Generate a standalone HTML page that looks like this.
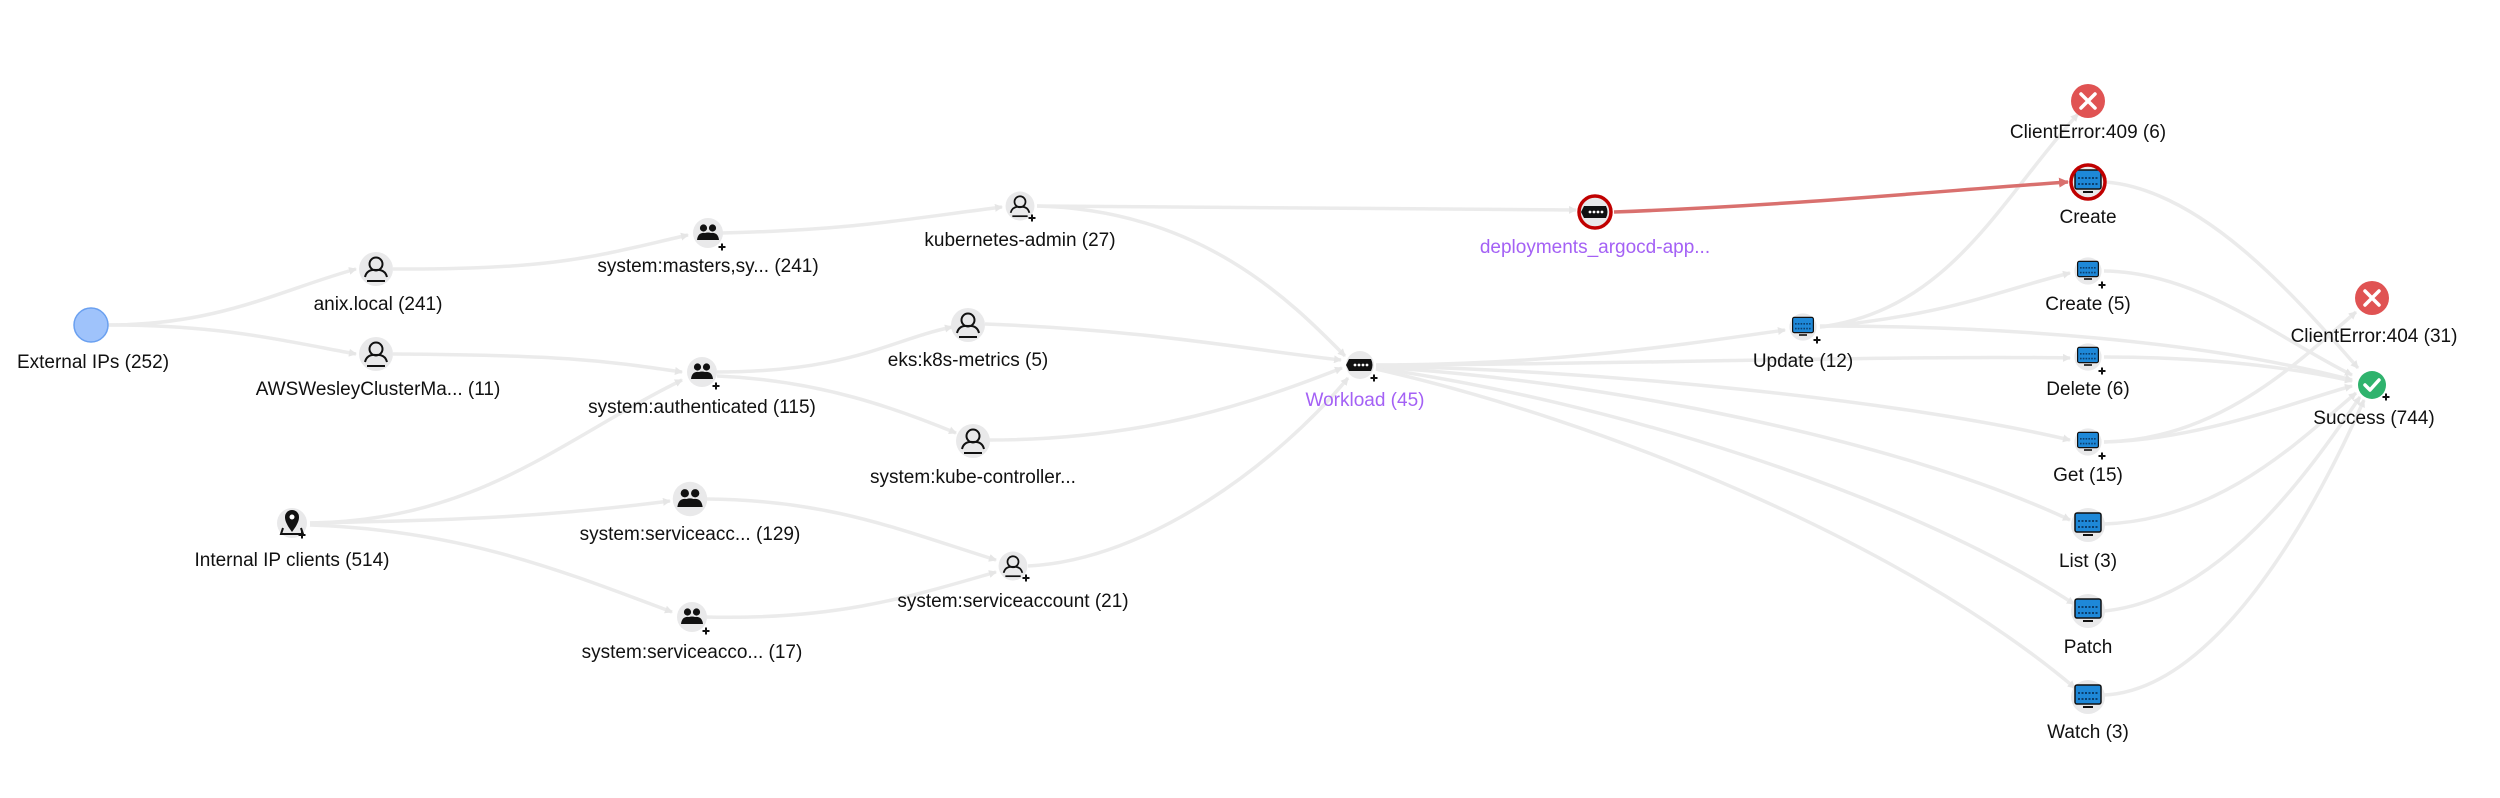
<!DOCTYPE html>
<html><head><meta charset="utf-8"><style>
html,body{margin:0;padding:0;background:#fff;}
svg{display:block;}
text{font-family:"Liberation Sans",Arial,sans-serif;font-size:19px;fill:#111;text-anchor:middle;}
.p{fill:#a461f5;}
.e{fill:none;stroke:#ebebeb;stroke-width:3.5;}
</style></head><body>
<svg width="2500" height="798" viewBox="0 0 2500 798" xmlns="http://www.w3.org/2000/svg">
<defs>
<marker id="a" markerWidth="8" markerHeight="8" refX="7" refY="4" orient="auto" markerUnits="userSpaceOnUse"><path d="M0,0L8,4L0,8z" fill="#e6e6e6"/></marker>
<marker id="ar" markerWidth="10" markerHeight="10" refX="9" refY="5" orient="auto" markerUnits="userSpaceOnUse"><path d="M0,0L10,5L0,10z" fill="#d9706e"/></marker>
<g id="user"><circle r="17" fill="#e9e9ea"/><circle cy="-5" r="6.5" fill="none" stroke="#111" stroke-width="2"/><path d="M-11,8 Q-9,0 0,1 Q9,0 11,8" fill="none" stroke="#111" stroke-width="2"/><path d="M-9,12H9" stroke="#111" stroke-width="2"/></g>
<g id="grp"><circle r="15" fill="#e9e9ea"/><circle cx="-4.5" cy="-5" r="3.6" fill="#111"/><circle cx="4.5" cy="-5" r="3.6" fill="#111"/><path d="M-11,7Q-10,-1 -3,0Q0,-1 3,0Q10,-1 11,7z" fill="#111"/></g>
<g id="plus"><path d="M-3.5,0H3.5M0,-3.5V3.5" stroke="#111" stroke-width="2"/></g>
<g id="mon"><circle r="17" fill="#e9e9ea"/><rect x="-13" y="-12" width="26" height="19" rx="2" fill="#1e88d8" stroke="#111" stroke-width="1.5"/><path d="M-10,-4H10M-10,2H10" stroke="#0b3f6e" stroke-width="2" stroke-dasharray="2 1.5"/><path d="M-5,10H5" stroke="#111" stroke-width="2"/></g>
<g id="wl"><path d="M-12,-6H10Q13,0 10,6H-12L-15,0z" fill="#111"/><circle cx="-6" r="1.4" fill="#fff"/><circle cx="-2" r="1.4" fill="#fff"/><circle cx="2" r="1.4" fill="#fff"/><circle cx="6" r="1.4" fill="#fff"/></g>
</defs>

<g class="edges">
<path class="e" marker-end="url(#a)" d="M108,325 C220,325 280,290 356,269"/>
<path class="e" marker-end="url(#a)" d="M108,325 C220,325 280,340 356,354"/>
<path class="e" marker-end="url(#a)" d="M393,269 C560,270 600,255 688,235"/>
<path class="e" marker-end="url(#a)" d="M393,354 C560,355 600,360 682,372"/>
<path class="e" marker-end="url(#a)" d="M722,233 C850,230 900,220 1002,207"/>
<path class="e" marker-end="url(#a)" d="M717,372 C850,372 890,340 952,327"/>
<path class="e" marker-end="url(#a)" d="M717,376 C820,380 900,410 956,433"/>
<path class="e" marker-end="url(#a)" d="M310,523 C480,520 560,440 682,380"/>
<path class="e" marker-end="url(#a)" d="M310,523 C480,520 560,515 670,501"/>
<path class="e" marker-end="url(#a)" d="M310,525 C460,530 560,570 672,612"/>
<path class="e" marker-end="url(#a)" d="M706,499 C830,500 900,530 996,560"/>
<path class="e" marker-end="url(#a)" d="M706,617 C830,620 900,600 996,572"/>
<path class="e" marker-end="url(#a)" d="M1037,206 C1200,210 1290,300 1345,356"/>
<path class="e" marker-end="url(#a)" d="M985,324 C1150,330 1250,350 1341,360"/>
<path class="e" marker-end="url(#a)" d="M989,440 C1150,440 1260,400 1342,368"/>
<path class="e" marker-end="url(#a)" d="M1028,566 C1150,560 1280,460 1348,378"/>
<path class="e" marker-end="url(#a)" d="M1037,206 C1300,208 1450,208 1576,210"/>
<path class="e" marker-end="url(#a)" d="M1376,365 C1550,365 1680,345 1785,330"/>
<path class="e" marker-end="url(#a)" d="M1376,365 C1600,365 1900,355 2070,358"/>
<path class="e" marker-end="url(#a)" d="M1376,366 C1600,370 1900,400 2070,440"/>
<path class="e" marker-end="url(#a)" d="M1376,367 C1600,380 1900,440 2070,520"/>
<path class="e" marker-end="url(#a)" d="M1376,368 C1600,400 1900,490 2074,604"/>
<path class="e" marker-end="url(#a)" d="M1376,369 C1600,420 1900,540 2075,688"/>
<path class="e" marker-end="url(#a)" d="M1820,327 C1950,310 2000,200 2078,114"/>
<path class="e" marker-end="url(#a)" d="M1820,327 C1950,315 2000,290 2070,273"/>
<path class="e" marker-end="url(#a)" d="M1820,326 C2000,326 2200,340 2352,380"/>
<path class="e" marker-end="url(#a)" d="M2106,182 C2200,190 2290,290 2358,368"/>
<path class="e" marker-end="url(#a)" d="M2104,271 C2200,272 2280,340 2352,375"/>
<path class="e" marker-end="url(#a)" d="M2104,357 C2200,357 2280,365 2352,381"/>
<path class="e" marker-end="url(#a)" d="M2104,442 C2200,440 2300,400 2352,386"/>
<path class="e" marker-end="url(#a)" d="M2104,442 C2220,440 2300,360 2356,312"/>
<path class="e" marker-end="url(#a)" d="M2104,524 C2220,520 2300,440 2356,393"/>
<path class="e" marker-end="url(#a)" d="M2104,611 C2220,600 2310,470 2360,397"/>
<path class="e" marker-end="url(#a)" d="M2104,695 C2220,690 2320,500 2364,400"/>
<path fill="none" stroke="#d9706e" stroke-width="3.5" marker-end="url(#ar)" d="M1614,212 C1800,205 1950,190 2068,182"/>
</g>

<circle cx="91" cy="325" r="17" fill="#9fc3fb" stroke="#6aa0f0" stroke-width="1.5"/>
<text x="93" y="368">External IPs (252)</text>

<use href="#user" x="376" y="269"/><text x="378" y="310">anix.local (241)</text>
<use href="#user" x="376" y="354"/><text x="378" y="395">AWSWesleyClusterMa... (11)</text>

<use href="#grp" x="708" y="233"/><use href="#plus" x="722" y="247"/><text x="708" y="272">system:masters,sy... (241)</text>
<use href="#grp" x="702" y="372"/><use href="#plus" x="716" y="386"/><text x="702" y="413">system:authenticated (115)</text>
<g transform="translate(690,499) scale(1.15)"><use href="#grp"/></g><text x="690" y="540">system:serviceacc... (129)</text>
<use href="#grp" x="692" y="617"/><use href="#plus" x="706" y="631"/><text x="692" y="658">system:serviceacco... (17)</text>

<circle cx="292" cy="523" r="15" fill="#e9e9ea"/>
<path d="M292,532 C286,524 285,520 285,517 A7,7 0 0 1 299,517 C299,520 298,524 292,532z" fill="#111"/><circle cx="292" cy="517" r="2.5" fill="#fff"/>
<path d="M283,528 L281,534 H303 L301,528" fill="none" stroke="#111" stroke-width="2"/>
<use href="#plus" x="302" y="535"/>
<text x="292" y="566">Internal IP clients (514)</text>

<g transform="translate(1020,206) scale(0.85)"><use href="#user"/></g><use href="#plus" x="1032" y="218"/><text x="1020" y="246">kubernetes-admin (27)</text>
<use href="#user" x="968" y="325"/><text x="968" y="366">eks:k8s-metrics (5)</text>
<use href="#user" x="973" y="441"/><text x="973" y="483">system:kube-controller...</text>
<g transform="translate(1013,566) scale(0.85)"><use href="#user"/></g><use href="#plus" x="1026" y="578"/><text x="1013" y="607">system:serviceaccount (21)</text>

<circle cx="1360" cy="365" r="14" fill="#e9e9ea"/><use href="#wl" x="1361" y="365"/><use href="#plus" x="1374" y="378"/>
<text class="p" x="1365" y="406">Workload (45)</text>

<circle cx="1595" cy="212" r="16" fill="#e9e9ea" stroke="#c00000" stroke-width="3.5"/><use href="#wl" x="1596" y="212"/>
<text class="p" x="1595" y="253">deployments_argocd-app...</text>

<g transform="translate(1803,327) scale(0.8)"><use href="#mon"/></g><use href="#plus" x="1817" y="340"/><text x="1803" y="367">Update (12)</text>

<circle cx="2088" cy="101" r="17" fill="#e05353"/><path d="M2081,94L2095,108M2095,94L2081,108" stroke="#fff" stroke-width="3.5" stroke-linecap="round"/>
<text x="2088" y="138">ClientError:409 (6)</text>

<use href="#mon" x="2088" y="182"/><circle cx="2088" cy="182" r="17" fill="none" stroke="#c00000" stroke-width="3.5"/>
<text x="2088" y="223">Create</text>

<g transform="translate(2088,271) scale(0.8)"><use href="#mon"/></g><use href="#plus" x="2102" y="285"/><text x="2088" y="310">Create (5)</text>
<g transform="translate(2088,357) scale(0.8)"><use href="#mon"/></g><use href="#plus" x="2102" y="371"/><text x="2088" y="395">Delete (6)</text>
<g transform="translate(2088,442) scale(0.8)"><use href="#mon"/></g><use href="#plus" x="2102" y="456"/><text x="2088" y="481">Get (15)</text>
<use href="#mon" x="2088" y="525"/><text x="2088" y="567">List (3)</text>
<use href="#mon" x="2088" y="611"/><text x="2088" y="653">Patch</text>
<use href="#mon" x="2088" y="697"/><text x="2088" y="738">Watch (3)</text>

<circle cx="2372" cy="298" r="17" fill="#e05353"/><path d="M2365,291L2379,305M2379,291L2365,305" stroke="#fff" stroke-width="3.5" stroke-linecap="round"/>
<text x="2374" y="342">ClientError:404 (31)</text>

<circle cx="2372" cy="385" r="14" fill="#2fb36d"/><path d="M2365,385L2370,390L2379,380" fill="none" stroke="#fff" stroke-width="3.5" stroke-linecap="round" stroke-linejoin="round"/>
<use href="#plus" x="2386" y="397"/>
<text x="2374" y="424">Success (744)</text>
</svg>
</body></html>
